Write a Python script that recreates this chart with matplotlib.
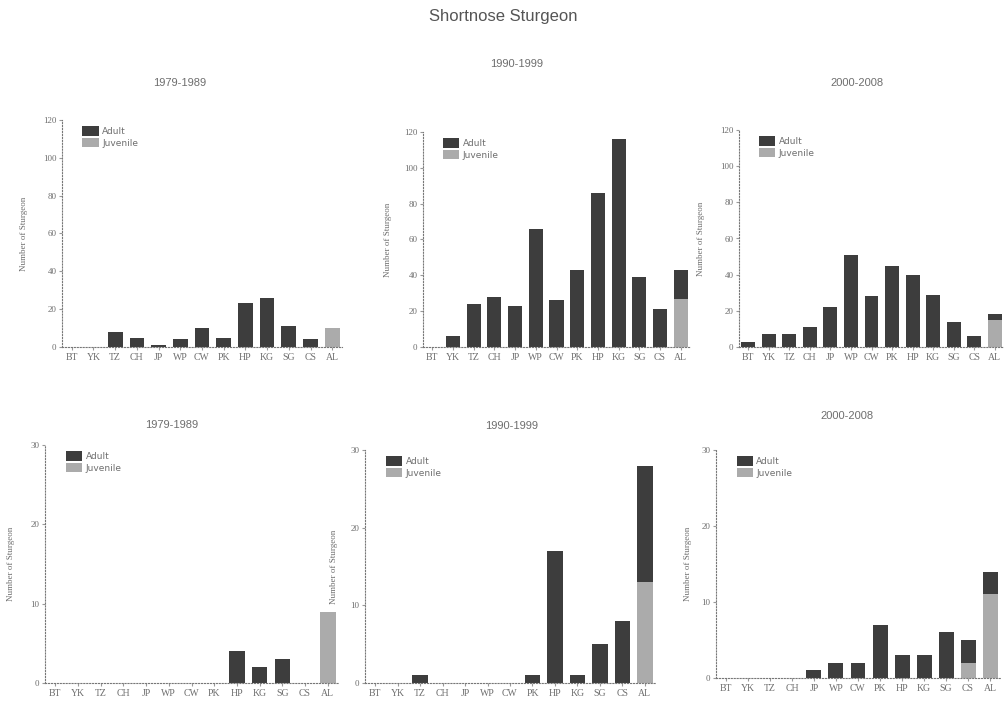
import matplotlib.pyplot as plt

# stations along the river
sites = ['BT', 'YK', 'TZ', 'CH', 'JP', 'WP', 'CW', 'PK', 'HP', 'KG', 'SG', 'CS', 'AL']
periods = ['1979-1989', '1990-1999', '2000-2008']
series_labels = ['Adult', 'Juvenile']

# top row (0-120)
top_dark_79 = [0, 0, 8, 5, 1, 4, 10, 5, 23, 26, 11, 4, 0]
top_light_79 = [0, 0, 0, 0, 0, 0, 0, 0, 0, 0, 0, 0, 10]
top_dark_90 = [0, 6, 24, 28, 23, 66, 26, 43, 86, 116, 39, 21, 16]
top_light_90 = [0, 0, 0, 0, 0, 0, 0, 0, 0, 0, 0, 0, 27]
top_dark_00 = [3, 7, 7, 11, 22, 51, 28, 45, 40, 29, 14, 6, 3]
top_light_00 = [0, 0, 0, 0, 0, 0, 0, 0, 0, 0, 0, 0, 15]

# bottom row (0-30)
bot_dark_79 = [0, 0, 0, 0, 0, 0, 0, 0, 4, 2, 3, 0, 0]
bot_light_79 = [0, 0, 0, 0, 0, 0, 0, 0, 0, 0, 0, 0, 9]
bot_dark_90 = [0, 0, 1, 0, 0, 0, 0, 1, 17, 1, 5, 8, 15]
bot_light_90 = [0, 0, 0, 0, 0, 0, 0, 0, 0, 0, 0, 0, 13]
bot_dark_00 = [0, 0, 0, 0, 1, 2, 2, 7, 3, 3, 6, 3, 3]
bot_light_00 = [0, 0, 0, 0, 0, 0, 0, 0, 0, 0, 0, 2, 11]

W, H = 1006, 705
dark = '#3d3d3d'
light = '#ababab'
txt = '#6e6e6e'

# (left, right, top, bottom) in pixels, ylabel x, title x, title y
panels = [
    (62, 342, 120, 347, 28, 180, 83, top_dark_79, top_light_79, 120, 20, periods[0]),
    (423, 690, 132, 347, 392, 517, 64, top_dark_90, top_light_90, 120, 20, periods[1]),
    (739, 1004, 130, 347, 705, 857, 83, top_dark_00, top_light_00, 120, 20, periods[2]),
    (45, 338, 445, 683, 15, 172, 425, bot_dark_79, bot_light_79, 30, 10, periods[0]),
    (365, 655, 450, 683, 338, 512, 426, bot_dark_90, bot_light_90, 30, 10, periods[1]),
    (716, 1000, 450, 678, 692, 847, 416, bot_dark_00, bot_light_00, 30, 10, periods[2]),
]

fig = plt.figure(figsize=(W / 100, H / 100), dpi=100)
fig.text(503 / W, 1 - 16 / H, 'Shortnose Sturgeon', ha='center', va='center',
         fontsize=12, color='#555555', family='Liberation Sans')

x = list(range(len(sites)))
for (l, r, t, b, ylx, tx, ty, d, li, ymax, step, title) in panels:
    ax = fig.add_axes([l / W, 1 - b / H, (r - l) / W, (b - t) / H])
    ax.bar(x, li, width=0.68, color=light, label=series_labels[1])
    ax.bar(x, d, width=0.68, bottom=li, color=dark, label=series_labels[0])
    ax.set_xlim(-0.45, 12.45)
    ax.set_ylim(0, ymax)
    ax.set_yticks(range(0, ymax + 1, step))
    ax.set_xticks(x)
    ax.set_xticklabels(sites, family='Liberation Serif', fontsize=7, color=txt)
    for lab in ax.get_yticklabels():
        lab.set_family('Liberation Serif')
        lab.set_fontsize(6.5)
        lab.set_color(txt)
    ax.tick_params(length=2, color='#999999', pad=2)
    for s in ['top', 'right']:
        ax.spines[s].set_visible(False)
    for s in ['left', 'bottom']:
        ax.spines[s].set_linestyle(':')
        ax.spines[s].set_color('#777777')
    ax.set_ylabel('Number of Sturgeon', fontsize=6.5, color=txt, family='Liberation Serif')
    ax.yaxis.set_label_coords((ylx - l) / (r - l), 0.5)
    fig.text(tx / W, 1 - ty / H, title, ha='center', va='center', fontsize=8,
             color=txt, family='Liberation Sans')
    h, lb = ax.get_legend_handles_labels()
    ax.legend(h[::-1], lb[::-1], loc='upper left', bbox_to_anchor=(0.05, 1.0),
              frameon=False, fontsize=6.5, handlelength=1.8, handleheight=1.3,
              labelcolor=txt, borderpad=0.2, labelspacing=0.15, handletextpad=0.4)

fig.savefig('out.png', dpi=100)
